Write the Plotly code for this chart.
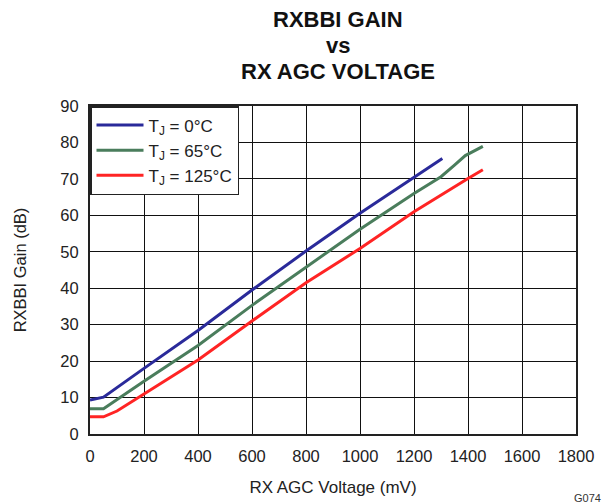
import plotly.graph_objects as go

# Data
x_0c = [0, 50, 200, 400, 600, 800, 1000, 1200, 1305]
y_0c = [9.3, 10.1, 18.0, 28.4, 39.5, 50.2, 60.6, 70.4, 75.6]

x_65c = [0, 50, 200, 400, 600, 800, 1000, 1200, 1300, 1350, 1390, 1455]
y_65c = [6.9, 6.9, 14.5, 24.3, 35.3, 45.7, 56.2, 66.0, 70.6, 73.8, 76.4, 78.9]

x_125c = [0, 50, 100, 200, 400, 600, 800, 1000, 1200, 1400, 1455]
y_125c = [4.7, 4.7, 6.3, 10.9, 20.3, 31.0, 41.5, 50.9, 61.0, 70.1, 72.5]

names = ["T<sub>J</sub> = 0°C", "T<sub>J</sub> = 65°C", "T<sub>J</sub> = 125°C"]
colors = ["#2a2a9a", "#4a7d5c", "#ff2424"]
title_lines = ["RXBBI GAIN", "vs", "RX AGC VOLTAGE"]

x_ticks = list(range(0, 1801, 200))
y_ticks = list(range(0, 91, 10))

FONT = "Liberation Sans, Arial, sans-serif"
TXT = "#222222"

fig = go.Figure()
for xs, ys, nm, c in zip([x_0c, x_65c, x_125c], [y_0c, y_65c, y_125c], names, colors):
    fig.add_trace(go.Scatter(x=xs, y=ys, mode="lines", name=nm,
                             line=dict(color=c, width=3)))

fig.update_layout(
    width=605, height=504,
    margin=dict(l=90, r=29, t=106, b=70),
    paper_bgcolor="white", plot_bgcolor="white",
    font=dict(family=FONT, color=TXT),
    showlegend=True,
    legend=dict(x=0, y=1, xanchor="left", yanchor="top",
                bgcolor="white", bordercolor=TXT, borderwidth=1.5,
                font=dict(size=17, family=FONT, color=TXT),
                tracegroupgap=0, itemwidth=47),
    xaxis=dict(range=[0, 1800], tickvals=x_ticks, ticktext=[str(v) for v in x_ticks],
               showgrid=True, gridcolor="#111111", gridwidth=1,
               showline=True, linecolor=TXT, linewidth=2, mirror=True,
               zeroline=False, ticks="", ticklabelstandoff=6, automargin=False,
               tickfont=dict(size=16.5, family=FONT, color=TXT),
               title=dict(text="RX AGC Voltage (mV)", standoff=17,
                          font=dict(size=17, family=FONT, color=TXT))),
    yaxis=dict(range=[0, 90], tickvals=y_ticks, ticktext=[str(v) for v in y_ticks],
               showgrid=True, gridcolor="#111111", gridwidth=1,
               showline=True, linecolor=TXT, linewidth=2, mirror=True,
               zeroline=False, ticks="", ticklabelstandoff=6, automargin=False,
               tickfont=dict(size=16.5, family=FONT, color=TXT),
               title=dict(text="RXBBI Gain (dB)", standoff=30,
                          font=dict(size=16.5, family=FONT, color=TXT))),
)

# Title as three centred bold lines
title_y = [1.2637, 1.1845, 1.1037]
for txt, yy in zip(title_lines, title_y):
    fig.add_annotation(text="<b>" + txt + "</b>", xref="paper", yref="paper",
                       x=0.511, y=yy, xanchor="center", yanchor="middle",
                       showarrow=False,
                       font=dict(size=22, family=FONT, color="#111111"))

fig.add_annotation(text="G074", xref="paper", yref="paper", x=1.055, y=-0.195,
                   xanchor="right", yanchor="middle", showarrow=False,
                   font=dict(size=11, family=FONT, color="#333333"))

fig.write_html("out.html", config={"displayModeBar": False},
               post_script="document.body.style.margin='0';")
